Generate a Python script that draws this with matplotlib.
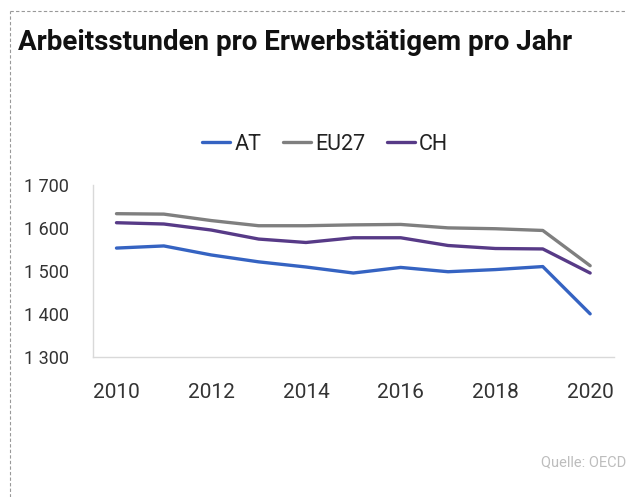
import matplotlib
matplotlib.use("Agg")
import matplotlib.pyplot as plt
from matplotlib.lines import Line2D

plt.rcParams["font.family"] = ["Roboto", "DejaVu Sans"]

years = [2010, 2011, 2012, 2013, 2014, 2015, 2016, 2017, 2018, 2019, 2020]
at = [1553, 1558, 1537, 1521, 1509, 1495, 1508, 1498, 1503, 1510, 1400]
eu27 = [1633, 1632, 1617, 1605, 1605, 1607, 1608, 1600, 1598, 1594, 1512]
ch = [1612, 1609, 1595, 1574, 1566, 1577, 1577, 1559, 1552, 1551, 1495]
yticks = [1300, 1400, 1500, 1600, 1700]
xticks = [2010, 2012, 2014, 2016, 2018, 2020]

series = [("AT", at, "#3563c2"), ("EU27", eu27, "#7f7f7f"), ("CH", ch, "#573a87")]

fig = plt.figure(figsize=(6.27, 4.97), dpi=100)
ax = fig.add_axes([0.148, 0.282, 0.831, 0.346])

for name, vals, col in series:
    ax.plot(years, vals, color=col, lw=2.4, label=name, solid_capstyle="round")

ax.set_xlim(2009.5, 2020.5)
ax.set_ylim(1300, 1700)
ax.set_xticks(xticks)
ax.set_yticks(yticks)
ax.set_yticklabels([f"{v:,}".replace(",", " ") for v in yticks])
ax.tick_params(length=0, colors="#333333")
ax.tick_params(axis="x", labelsize=15, pad=19)
ax.tick_params(axis="y", labelsize=13, pad=17)
for s in ("top", "right"):
    ax.spines[s].set_visible(False)
for s in ("left", "bottom"):
    ax.spines[s].set_color("#d9d9d9")
    ax.spines[s].set_linewidth(1)

ax.legend(loc="center", bbox_to_anchor=(325 / 627, 1 - 144 / 497),
          bbox_transform=fig.transFigure, ncol=3, frameon=False,
          fontsize=15.5, handlelength=1.3, handletextpad=0.2, columnspacing=1.0,
          labelcolor="#222222")

fig.text(18 / 627, 1 - 42 / 497, "Arbeitsstunden pro Erwerbstätigem pro Jahr",
         fontsize=20, fontweight="bold", va="center", ha="left", color="#111111")
fig.text(626 / 627, 1 - 462 / 497, "Quelle: OECD", fontsize=10.5,
         color="#bdbdbd", ha="right", va="center")

# dashed frame (left and top)
fig.add_artist(Line2D([10 / 627, 10 / 627], [0, 1 - 11 / 497], transform=fig.transFigure,
                      color="#999999", lw=0.8, ls=(0, (3, 2))))
fig.add_artist(Line2D([10 / 627, 1], [1 - 11 / 497, 1 - 11 / 497], transform=fig.transFigure,
                      color="#999999", lw=0.8, ls=(0, (3, 2))))

fig.savefig("out.png", dpi=100, facecolor="white")
